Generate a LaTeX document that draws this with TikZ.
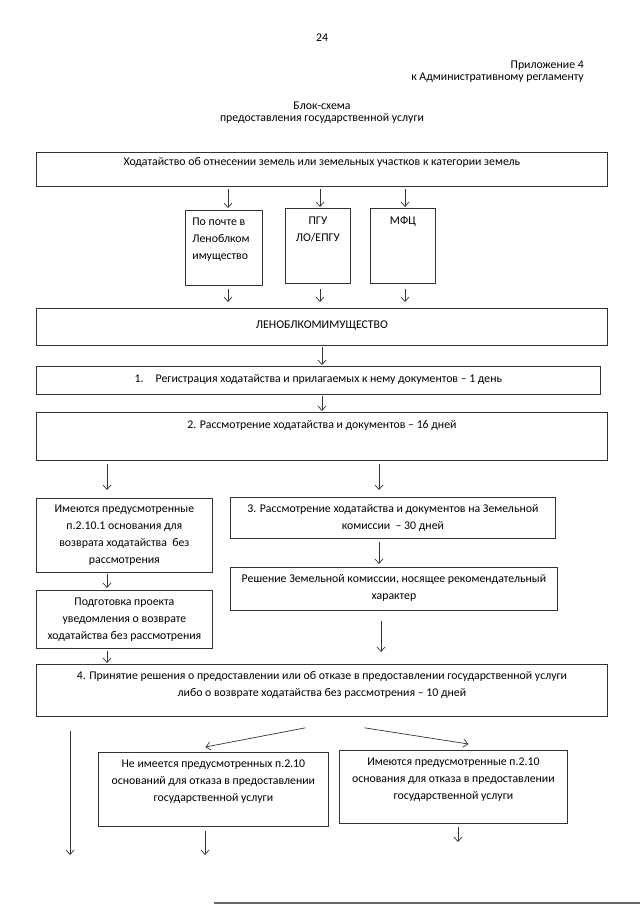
\documentclass[tikz,border=0pt]{standalone}
\usepackage{fontspec}
\setmainfont{Carlito}
\usetikzlibrary{arrows.meta,calc}
% width, height, centre of first line below top, text
\newcommand{\tbox}[4]{\parbox[c][#2pt][t]{#1pt}{\vspace*{\dimexpr #3pt-8pt\relax}\centering\strut #4\par}}
\newcommand{\tboxl}[5]{\parbox[c][#2pt][t]{#1pt}{\vspace*{\dimexpr #3pt-8pt\relax}\raggedright\leftskip=#5pt\strut #4\par}}
\tikzset{
  blk/.style={draw=black!80, line width=0.8pt, inner sep=0pt, anchor=north west},
  arr/.style={draw=black!80, line width=0.7pt, -{Straight Barb[length=4.5pt,width=8pt]}},
  hdr/.style={inner sep=0pt},
}
\begin{document}
\begin{tikzpicture}[x=1pt,y=-1pt,font=\fontsize{11.8}{17}\selectfont]
\fill[white] (0,0) rectangle (640,905);
\useasboundingbox (0,0) rectangle (640,905);

% header
\node[hdr] (pg) at (322,38) {24};
\node[hdr,anchor=east] (pr1) at (584,66) {Приложение 4};
\node[hdr,anchor=east] (pr2) at (584,78) {к Административному регламенту};
\node[hdr] (t1) at (322,106) {Блок-схема};
\node[hdr] (t2) at (322,118) {предоставления государственной услуги};

% boxes
\node[blk] (b0) at (36,152) {\tbox{571}{34}{9}{Ходатайство об отнесении земель или земельных участков к категории земель}};
\node[blk] (pochta) at (185,210) {\tboxl{77}{75}{11}{По почте в\\Леноблком\\имущество}{7}};
\node[blk] (pgu) at (285,208) {\tbox{65}{75}{12}{ПГУ\\ЛО/ЕПГУ}};
\node[blk] (mfc) at (370,208) {\tbox{65}{75}{12}{МФЦ}};
\node[blk] (lenobl) at (36,308) {\tbox{571}{37}{16}{ЛЕНОБЛКОМИМУЩЕСТВО}};
\node[blk] (reg) at (36,366) {\tbox{564}{28}{12}{1.\hspace{12pt}Регистрация ходатайства и прилагаемых к нему документов – 1 день}};
\node[blk] (rass) at (36,412) {\tbox{571}{48}{12}{2. Рассмотрение ходатайства и документов – 16 дней}};
\node[blk] (imey) at (36,498) {\tbox{176}{74}{10}{Имеются предусмотренные\\п.2.10.1 основания для\\возврата ходатайства\ \ без\\рассмотрения}};
\node[blk] (podg) at (36,590) {\tbox{176}{58}{11}{Подготовка проекта\\уведомления о возврате\\ходатайства без рассмотрения}};
\node[blk] (zem) at (230,497) {\tbox{325}{41}{11}{3. Рассмотрение ходатайства и документов на Земельной\\комиссии\ \ – 30 дней}};
\node[blk] (resh) at (230,567) {\tbox{327}{43}{11}{Решение Земельной комиссии, носящее рекомендательный\\характер}};
\node[blk] (prin) at (36,664) {\tbox{571}{52}{11}{4. Принятие решения о предоставлении или об отказе в предоставлении государственной услуги\\либо о возврате ходатайства без рассмотрения – 10 дней}};
\node[blk] (neim) at (98,752) {\tbox{230}{74}{11}{Не имеется предусмотренных п.2.10\\оснований для отказа в предоставлении\\государственной услуги}};
\node[blk] (imey2) at (339,750) {\tbox{228}{73}{11}{Имеются предусмотренные п.2.10\\основания для отказа в предоставлении\\государственной услуги}};

% arrow columns and free ends
\coordinate (cA) at (228,0);
\coordinate (cB) at (320,0);
\coordinate (cC) at (405,0);
\coordinate (cM) at (322,0);
\coordinate (cL) at (107,0);
\coordinate (cR) at (379,0);
\coordinate (cR2) at (381,0);
\coordinate (endL) at (70,855);
\coordinate (endM) at (205,855);
\coordinate (endR) at (458,842);

% connectors
\draw[arr,shorten <=2pt,shorten >=2pt] (b0.south -| cA) -- (pochta.north -| cA);
\draw[arr,shorten <=2pt,shorten >=1pt] (b0.south -| cB) -- (pgu.north -| cB);
\draw[arr,shorten <=2pt,shorten >=1pt] (b0.south -| cC) -- (mfc.north -| cC);
\draw[arr,shorten <=3pt,shorten >=6pt] (pochta.south -| cA) -- (lenobl.north -| cA);
\draw[arr,shorten <=5pt,shorten >=6pt] (pgu.south -| cB) -- (lenobl.north -| cB);
\draw[arr,shorten <=5pt,shorten >=6pt] (mfc.south -| cC) -- (lenobl.north -| cC);
\draw[arr,shorten <=1pt,shorten >=1pt] (lenobl.south -| cM) -- (reg.north -| cM);
\draw[arr,shorten <=1pt,shorten >=1pt] (reg.south -| cM) -- (rass.north -| cM);
\draw[arr,shorten <=3pt,shorten >=8pt] (rass.south -| cL) -- (imey.north -| cL);
\draw[arr,shorten <=3pt,shorten >=7pt] (rass.south -| cR) -- (zem.north -| cR);
\draw[arr,shorten <=1pt,shorten >=2pt] (imey.south -| cL) -- (podg.north -| cL);
\draw[arr,shorten <=3pt,shorten >=3pt] (zem.south -| cR) -- (resh.north -| cR);
\draw[arr,shorten <=2pt,shorten >=1pt] (podg.south -| cL) -- (prin.north -| cL);
\draw[arr,shorten <=10pt,shorten >=12pt] (resh.south -| cR2) -- (prin.north -| cR2);
\draw[arr,shorten <=14pt] (prin.south -| endL) -- (endL);
\draw[arr] ([xshift=-16.5pt,yshift=-11pt]prin.south) -- ([xshift=-8pt,yshift=5pt]neim.north);
\draw[arr] ([xshift=42.5pt,yshift=-11pt]prin.south) -- ([xshift=15pt,yshift=6pt]imey2.north);
\draw[arr,shorten <=4pt] (neim.south -| endM) -- (endM);
\draw[arr,shorten <=3pt] (imey2.south -| endR) -- (endR);

% scan edge at the foot of the page
\draw[black!60, line width=1.5pt] (214,903) -- (640,903);
\end{tikzpicture}
\end{document}
